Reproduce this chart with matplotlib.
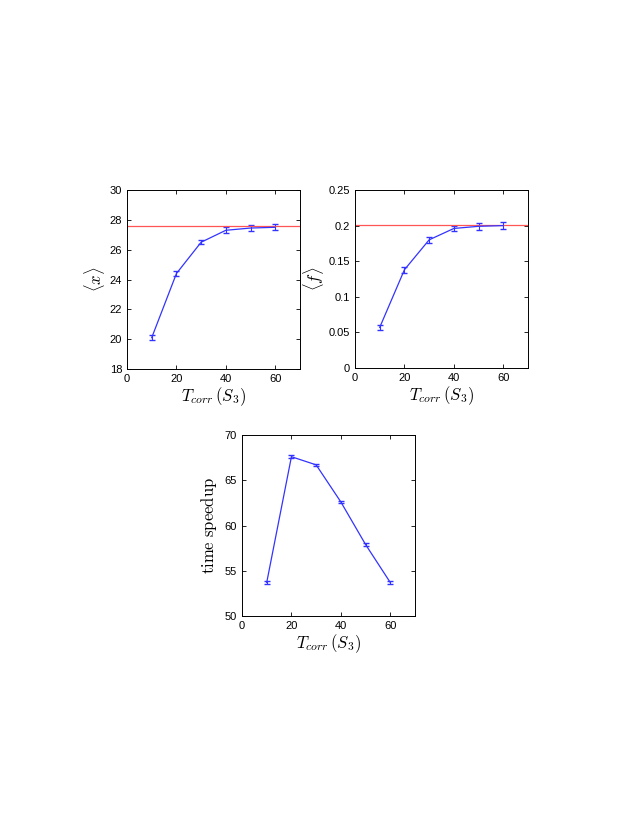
import numpy as np
import matplotlib
matplotlib.use("Agg")
import matplotlib.pyplot as plt

plt.rcParams["font.family"] = ["Liberation Sans", "DejaVu Sans"]
plt.rcParams["mathtext.fontset"] = "cm"

# ─── DATA ─────────────────────────────────────────────────
t_corr = [10, 20, 30, 40, 50, 60]

mean_x     = [20.1, 24.4, 26.5, 27.3, 27.45, 27.5]
mean_x_err = [0.15, 0.15, 0.15, 0.2, 0.2, 0.2]
ref_x      = 27.6

mean_f     = [0.057, 0.138, 0.180, 0.196, 0.199, 0.200]
mean_f_err = [0.004, 0.004, 0.004, 0.004, 0.005, 0.005]
ref_f      = 0.201

speedup     = [53.7, 67.6, 66.7, 62.6, 57.9, 53.7]
speedup_err = [0.15, 0.15, 0.12, 0.15, 0.15, 0.15]

W, H = 638, 825
fig = plt.figure(figsize=(W / 100, H / 100), dpi=100)


def make_axes(left, top, right, bottom):
    return fig.add_axes([left / W, 1 - bottom / H, (right - left) / W, (bottom - top) / H])


def style(ax):
    ax.tick_params(direction="in", top=True, right=True, labelsize=8, length=3, width=0.6)
    for s in ax.spines.values():
        s.set_linewidth(0.7)
    ax.set_xlim(0, 70)
    ax.set_xticks([0, 20, 40, 60])
    ax.set_xlabel(r"$T_{corr}\,(S_3)$", fontsize=12, labelpad=1)


blue = "#3333ff"

ax1 = make_axes(127, 190, 300, 369)
ax1.errorbar(t_corr, mean_x, yerr=mean_x_err, color=blue, lw=0.9, capsize=2, elinewidth=0.8)
ax1.axhline(ref_x, color="#ff5555", lw=0.9)
ax1.set_ylim(18, 30)
ax1.set_yticks([18, 20, 22, 24, 26, 28, 30])
ax1.set_ylabel(r"$\langle x\rangle$", fontsize=12, labelpad=2)
style(ax1)

ax2 = make_axes(355, 190, 528, 368)
ax2.errorbar(t_corr, mean_f, yerr=mean_f_err, color=blue, lw=0.9, capsize=2, elinewidth=0.8)
ax2.axhline(ref_f, color="#ff5555", lw=0.9)
ax2.set_ylim(0, 0.25)
ax2.set_yticks([0, 0.05, 0.1, 0.15, 0.2, 0.25])
ax2.set_yticklabels(["0", "0.05", "0.1", "0.15", "0.2", "0.25"])
ax2.set_ylabel(r"$\langle f\rangle$", fontsize=12, labelpad=2)
style(ax2)

ax3 = make_axes(242, 435, 415, 616)
ax3.errorbar(t_corr, speedup, yerr=speedup_err, color=blue, lw=0.9, capsize=2, elinewidth=0.8)
ax3.set_ylim(50, 70)
ax3.set_yticks([50, 55, 60, 65, 70])
ax3.set_ylabel(r"$\mathrm{time\ speedup}$", fontsize=12, labelpad=4)
style(ax3)

fig.savefig("out.png", dpi=100)
